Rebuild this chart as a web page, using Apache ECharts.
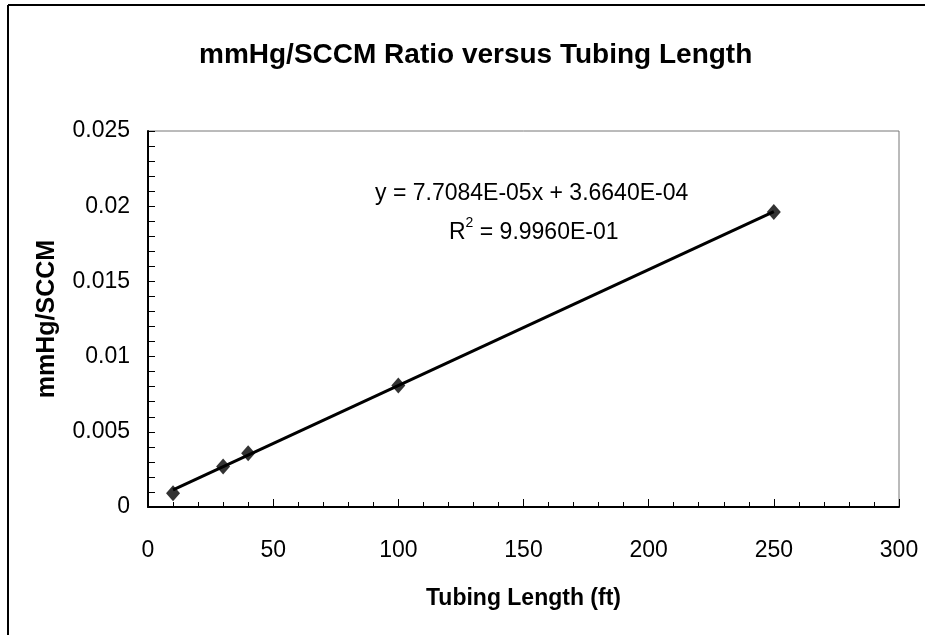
<!DOCTYPE html>
<html>
<head>
<meta charset="utf-8">
<script src="https://cdn.jsdelivr.net/npm/echarts@6/dist/echarts.min.js"></script>
<style>
  html, body { margin: 0; padding: 0; background: #fff; }
  #chart { width: 925px; height: 635px; }
</style>
</head>
<body>
<div id="chart"></div>
<script>
// measured points (tubing length ft, mmHg/SCCM)
const lengths = [10, 30, 40, 100, 250];
const ratios = [0.00092, 0.00270, 0.00358, 0.00808, 0.01962];

// linear trendline ends, as drawn on the picture
const trendX = [10, 250];
const trendY = [0.00114, 0.01964];

const eqLine = 'y = 7.7084E-05x + 3.6640E-04';
const r2Value = ' = 9.9960E-01';

const font = '"Liberation Sans", Arial, sans-serif';

const chart = echarts.init(document.getElementById('chart'));

chart.setOption({
  animation: false,
  backgroundColor: '#fff',
  title: {
    text: 'mmHg/SCCM Ratio versus Tubing Length',
    left: 194,
    top: 36,
    textStyle: { fontFamily: font, fontSize: 28, fontWeight: 'bold', color: '#000' }
  },
  grid: {
    left: 148, top: 131, right: 26, bottom: 128,
    show: true, borderColor: '#777', borderWidth: 1, backgroundColor: '#fff'
  },
  xAxis: {
    type: 'value',
    min: 0, max: 300, interval: 50,
    name: 'Tubing Length (ft)',
    nameLocation: 'middle',
    nameGap: 80,
    nameTextStyle: { fontFamily: font, fontSize: 23, fontWeight: 'bold', color: '#000' },
    axisLine: { lineStyle: { color: '#000', width: 2 } },
    axisTick: { inside: true, length: 8, lineStyle: { color: '#000' } },
    minorTick: { show: true, splitNumber: 5, length: 5, lineStyle: { color: '#000' } },
    splitLine: { show: false },
    axisLabel: { fontFamily: font, fontSize: 23, color: '#000', margin: 32 }
  },
  yAxis: {
    type: 'value',
    min: 0, max: 0.025, interval: 0.005,
    name: 'mmHg/SCCM',
    nameLocation: 'middle',
    nameGap: 88,
    nameTextStyle: { fontFamily: font, fontSize: 25, fontWeight: 'bold', color: '#000' },
    axisLine: { show: true, lineStyle: { color: '#000', width: 2 } },
    axisTick: { show: true, inside: true, length: 7, lineStyle: { color: '#000' } },
    minorTick: { show: true, splitNumber: 5, length: 7, lineStyle: { color: '#000' } },
    splitLine: { show: false },
    axisLabel: { fontFamily: font, fontSize: 23, color: '#000', margin: 18 }
  },
  graphic: [
    { type: 'line', shape: { x1: 8, y1: 5, x2: 8, y2: 635 }, style: { stroke: '#000', lineWidth: 2 } },
    { type: 'line', shape: { x1: 8, y1: 5, x2: 925, y2: 5 }, style: { stroke: '#000', lineWidth: 2 } },
    {
      type: 'text', x: 375, y: 194, z: 10,
      style: { text: eqLine, font: '23px ' + font, fill: '#000', align: 'left', verticalAlign: 'middle' }
    },
    {
      type: 'text', x: 449, y: 230, z: 10,
      style: {
        text: '{r|R}{s|2}{r|' + r2Value + '}',
        fill: '#000',
        align: 'left',
        verticalAlign: 'middle',
        rich: {
          r: { fontFamily: font, fontSize: 23, verticalAlign: 'bottom' },
          s: { fontFamily: font, fontSize: 14, verticalAlign: 'top', padding: [0, 0, 14, 0] }
        }
      }
    }
  ],
  series: [
    {
      type: 'line',
      data: trendX.map((x, i) => [x, trendY[i]]),
      showSymbol: false,
      lineStyle: { color: '#000', width: 3 },
      z: 2
    },
    {
      type: 'scatter',
      data: lengths.map((x, i) => [x, ratios[i]]),
      symbol: 'diamond',
      symbolSize: [14, 16],
      itemStyle: { color: '#000' },
      z: 3
    }
  ]
});
</script>
</body>
</html>
